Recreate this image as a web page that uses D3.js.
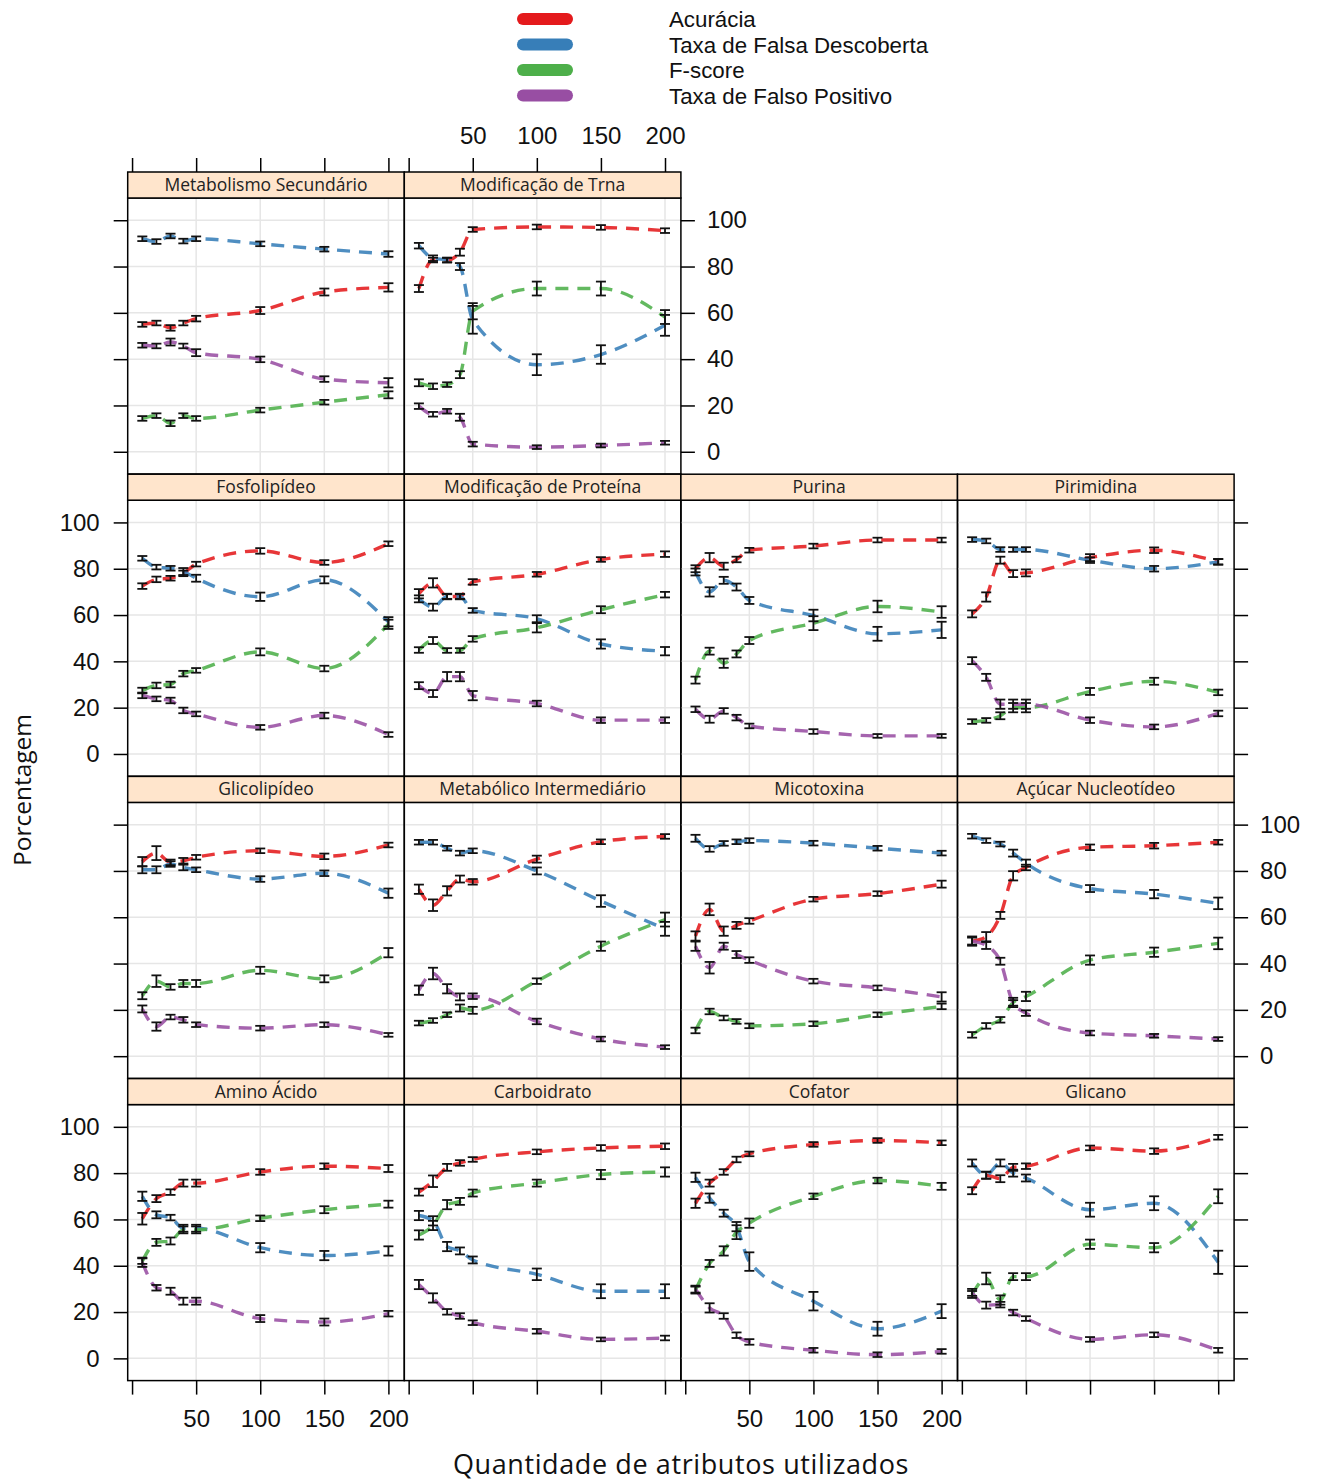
<!DOCTYPE html>
<html>
<head>
<meta charset="utf-8">
<script src="https://cdn.jsdelivr.net/npm/d3@7"></script>
<style>
  body { margin: 0; background: #fff; }
  svg { display: block; }
</style>
</head>
<body>
<div id="chart"></div>
<script>
// quantidade de atributos (eixo x)
const atributos = [8, 19, 30, 40, 50, 100, 150, 200];

const paineis = [
    "Metabolismo Secundário", "Modificação de Trna",
    "Fosfolipídeo", "Modificação de Proteína", "Purina", "Pirimidina",
    "Glicolipídeo", "Metabólico Intermediário", "Micotoxina", "Açúcar Nucleotídeo",
    "Amino Ácido", "Carboidrato", "Cofator", "Glicano"
];

const metricas = ["Acurácia", "Taxa de Falsa Descoberta", "F-score", "Taxa de Falso Positivo"];
const cores = ["#E41A1C", "#377EB8", "#4DAF4A", "#984EA3"];

// valores por painel (mesma ordem de paineis)
const acuracia = [
    [55, 55.6, 53.5, 55.6, 57.5, 61, 69, 71],
    [70.5, 82.8, 82.8, 86.2, 96, 97.1, 96.9, 95.5],
    [72.5, 75.4, 75.9, 78, 82, 87.7, 82.7, 90.8],
    [69.2, 73.9, 68, 68, 74.3, 77.6, 84, 86.3],
    [80, 84.8, 81.1, 84, 88, 89.8, 92.4, 92.4],
    [60.5, 67.8, 83.7, 77.9, 78.2, 84.8, 88, 83],
    [84, 87.7, 83.7, 84.4, 85.9, 88.7, 86.3, 91.2],
    [72.1, 65.2, 71.4, 76.5, 75.3, 85.1, 92.6, 94.9],
    [51.9, 63.4, 54, 56.5, 58.4, 67.8, 70.2, 74.3],
    [49.7, 51.6, 60.8, 77.9, 81.5, 90.2, 90.9, 92.4],
    [60.3, 69, 71.8, 75.7, 75.7, 80.5, 83, 82],
    [71.8, 76.5, 82.5, 84.4, 85.9, 89.2, 90.9, 91.6],
    [67, 75.7, 80.5, 85.9, 88.3, 92.4, 94.1, 93.1],
    [72.4, 79.1, 77.6, 82.5, 83, 90.9, 89.5, 95.5]
];
const falsaDescoberta = [
    [92, 90.8, 93.2, 91, 92, 89.8, 87.5, 85.4],
    [89, 83.6, 82.8, 80, 57, 37.6, 42, 54.6],
    [84.5, 80.7, 80.2, 78.8, 75.9, 67.9, 75.2, 57.1],
    [67, 63.4, 68, 68, 62, 58.4, 47.5, 44.4],
    [78.6, 70, 75, 72.1, 66.3, 59.8, 51.9, 53.6],
    [92.6, 92, 88.3, 88.3, 88.3, 83.7, 80, 83],
    [80.5, 80.5, 83, 81.5, 80.5, 76.5, 79, 70.4],
    [92.4, 92.4, 89.8, 87.7, 88.7, 80, 67, 55],
    [94.1, 89.5, 91.9, 92.6, 93.1, 92, 89.8, 87.7],
    [95, 93.1, 91.6, 87.7, 83.4, 72.4, 70, 66],
    [70, 62, 60.8, 56.2, 56.2, 47.8, 44.4, 46.4],
    [61.7, 59.4, 48.3, 46.4, 42.5, 36.3, 29, 29],
    [78.2, 69.2, 62.7, 56.9, 41.8, 24.7, 12.8, 20.4],
    [84.4, 79.1, 84.4, 80, 77.9, 64.2, 67, 41.5]
];
const fScore = [
    [14.4, 15.6, 12.3, 15.6, 14.4, 18, 21.4, 24.6],
    [29.8, 28.3, 29, 33.3, 60.7, 70.5, 70.5, 58.2],
    [27.4, 29.6, 30, 34.7, 36.1, 44.1, 36.9, 56],
    [44.9, 49, 44.7, 44.7, 49.7, 54.5, 62.3, 68.8],
    [31.9, 44.4, 39.2, 43.2, 49, 56.5, 63.7, 61.3],
    [14, 14.5, 16.5, 20, 20, 27, 31.4, 26.6],
    [26.1, 32.4, 29.9, 31.4, 31.4, 37.1, 33.4, 44.7],
    [14.3, 15.4, 17.9, 20.8, 19.8, 32.4, 47.5, 59],
    [11.1, 19.3, 16.5, 15, 13.1, 14, 17.9, 21.5],
    [9.2, 13.1, 15.7, 23.2, 25.8, 41.5, 44.9, 48.7],
    [42, 50.1, 50.7, 55.5, 55.5, 60.5, 64.2, 66.6],
    [53.3, 57.4, 66.4, 67.8, 71.4, 75.7, 79.4, 80.5],
    [29.5, 41, 46.4, 54.5, 58.4, 70, 76.8, 74.3],
    [27.6, 34.5, 25.2, 35.3, 35.3, 49.3, 47.8, 70]
];
const falsoPositivo = [
    [46, 45.7, 47.4, 45.7, 42.8, 39.9, 31.4, 29.8],
    [19.7, 16.2, 17.5, 14.9, 3.3, 2, 2.7, 3.9],
    [25.3, 23.8, 23.1, 18.8, 17.3, 11.5, 16.6, 8.4],
    [29.5, 26.1, 33.4, 33.4, 25.2, 21.8, 14.6, 14.6],
    [19.3, 15, 18.6, 15.7, 12.1, 9.7, 7.8, 7.8],
    [40.3, 33.1, 21.5, 21.5, 21.5, 14.6, 11.7, 17.5],
    [20.4, 12.8, 16.9, 15.7, 13.6, 12.1, 13.6, 9.2],
    [28.5, 35.7, 29.1, 25.6, 25.9, 15, 7.4, 3.9],
    [47.5, 38.2, 47.5, 43.9, 41.5, 32.4, 29.5, 25.6],
    [49.7, 47.8, 41, 23, 18.6, 10, 8.8, 7.4],
    [41.5, 30.5, 29, 24.7, 24.7, 17.2, 15.7, 19.3],
    [31.9, 26.1, 20.1, 18.3, 15.4, 11.7, 8.2, 8.8],
    [29.9, 21.8, 18.3, 10, 7.1, 3.5, 1.6, 3],
    [28.5, 23, 23.2, 19.8, 17.2, 8.2, 10.2, 3.5]
];

// meia amplitude das barras de erro
const erroAcuracia = [
    [1, 1, 1.2, 1, 1.2, 1.5, 1.5, 1.8],
    [1.5, 1, 1, 1.5, 1, 1, 1, 1],
    [1.2, 1.2, 1, 1.2, 1, 1.2, 1, 1],
    [2, 2, 1.2, 1.2, 1.2, 1, 1, 1.2],
    [1.5, 2, 1.5, 1.2, 1, 1, 1, 1],
    [1.5, 2, 1.5, 1.5, 1.5, 1.5, 1.2, 1.2],
    [2, 3, 1.2, 1.2, 1, 1, 1.2, 1],
    [2, 2.5, 2, 1.5, 1.2, 1.5, 1, 1],
    [2, 2.5, 2, 1.5, 1.2, 1, 1, 1.5],
    [2, 2, 1.5, 2, 1.2, 1.2, 1.2, 1],
    [2.5, 1.5, 1.2, 1.5, 1.5, 1.2, 1.2, 1.5],
    [1.5, 2.5, 1.5, 1.2, 1, 1, 1.2, 1.2],
    [2, 1.5, 1.2, 1.2, 1, 1, 1, 1],
    [1.5, 1.5, 1.5, 1.5, 1.2, 1, 1.2, 1]
];
const erroFalsaDescoberta = [
    [1, 1, 1, 1, 1, 1, 1, 1.2],
    [1.2, 1.2, 1, 1.5, 6, 4.5, 4, 4.5],
    [1, 1, 1, 1.5, 1.5, 1.8, 1.5, 2],
    [1.5, 1.5, 1, 1, 1, 1.5, 2, 1.8],
    [1.5, 2, 1.5, 1.5, 1.5, 2.5, 3, 3.5],
    [1, 1, 1, 1, 1, 1.2, 1.2, 1.2],
    [1.5, 1.5, 1.2, 1.2, 1, 1.2, 1.2, 2],
    [1, 1, 1, 1, 1, 1.5, 2.5, 3],
    [1.5, 1.2, 1, 1, 1, 1, 1, 1],
    [1, 1, 1, 1.5, 1.5, 1.5, 1.8, 2.5],
    [2, 1.5, 1.2, 1.5, 1.5, 2, 2, 2],
    [2, 2, 2, 1.5, 1.5, 2.5, 3, 3],
    [2, 2, 1.5, 2, 4, 4, 3, 3],
    [1.5, 1.5, 1.5, 1.5, 1.5, 3, 3, 5]
];
const erroFScore = [
    [1, 1, 1.2, 1, 1, 1, 1, 1.5],
    [1.5, 1.2, 1, 1.5, 3.5, 3, 3, 3],
    [1.2, 1.2, 1.2, 1.2, 1, 1.5, 1.2, 2],
    [1.2, 1.5, 1, 1, 1.2, 2, 1.5, 1.2],
    [1.5, 1.5, 2, 1.5, 1.5, 3, 2.5, 2.5],
    [1, 1, 1.5, 2, 2, 1.5, 1.5, 1.2],
    [1.5, 2.5, 1.2, 1.5, 1.5, 1.5, 1.5, 2],
    [1, 1, 1, 1.5, 1.5, 1.2, 2, 3],
    [1.2, 1.2, 1, 1, 1, 1, 1, 1.2],
    [1.2, 1.2, 1.2, 2, 2, 2, 2, 2.5],
    [1.2, 1.5, 1.5, 1.5, 1.5, 1.2, 1.5, 1.5],
    [2, 2, 2, 1.5, 1.5, 1.5, 2, 2],
    [1.5, 1.5, 2, 3, 2, 1.2, 1.2, 1.5],
    [1.5, 2.5, 2, 1.5, 1.5, 2, 2, 3]
];
const erroFalsoPositivo = [
    [1, 1, 1.5, 1, 1.5, 1.2, 1.2, 2],
    [1.2, 1, 1, 1.5, 1, 0.8, 0.8, 0.8],
    [1.2, 1, 1.2, 1.2, 1, 1, 1.2, 1],
    [1.5, 1.5, 2, 2, 2, 1.2, 1.2, 1.2],
    [1.2, 1.5, 1.2, 1.2, 1, 1, 0.8, 0.8],
    [1.5, 1.5, 2, 2, 2, 1.2, 1, 1.2],
    [1.5, 1.8, 1, 1.2, 1, 1, 1, 0.8],
    [2, 2.5, 2, 1.5, 1.2, 1.2, 1, 0.8],
    [2, 2.5, 1.5, 1.5, 1.2, 1, 1, 2],
    [1.5, 1.5, 1.5, 1.2, 1.2, 1, 0.8, 0.8],
    [2, 1.2, 1.5, 1.5, 1.5, 1.5, 1.5, 1.2],
    [2, 2, 1.2, 1.2, 1, 1, 0.8, 1],
    [1.5, 2, 1.2, 1.2, 1.2, 1, 1, 1],
    [1.5, 1.5, 1.2, 1.2, 1, 1, 1, 1]
];

const xTicks = [0, 50, 100, 150, 200];
const yTicks = [0, 20, 40, 60, 80, 100];

const valores = [acuracia, falsaDescoberta, fScore, falsoPositivo];
const erros = [erroAcuracia, erroFalsaDescoberta, erroFScore, erroFalsoPositivo];

// ---- layout ----
let width = 1318;
let height = 1481;
let colLeft0 = 127.7, colW = 276.6;
let stripTop0 = 172, rowStep = 302.2, stripH = 26, panelH = 276;
const axisFont = "'Liberation Sans', Arial, sans-serif";
const stripFont = "'Open Sans', sans-serif";

// posicao (linha, coluna) de cada painel
function posicao(i) {
    if (i < 2) return [0, i];
    let k = i - 2;
    return [1 + Math.floor(k / 4), k % 4];
}

let svg = d3.select('#chart')
    .append('svg')
    .attr('width', width)
    .attr('height', height);

let x = d3.scaleLinear().domain([-3.4, 212.4]).range([0, colW]);
let y = d3.scaleLinear().domain([-9.6, 109.6]).range([panelH, 0]);

let line = d3.line()
    .x(d => x(d[0]))
    .y(d => y(d[1]))
    .curve(d3.curveMonotoneX);

function styleAxis(g) {
    g.select('.domain').remove();
    g.selectAll('.tick line').attr('stroke', '#000').attr('stroke-width', 1.5);
    g.selectAll('.tick text')
        .attr('fill', '#111')
        .style('font-family', axisFont)
        .style('font-size', '24px');
}

paineis.forEach((nome, i) => {
    let [row, col] = posicao(i);
    let left = colLeft0 + col * colW;
    let stripTop = stripTop0 + row * rowStep;
    let top = stripTop + stripH;

    let g = svg.append('g').attr('transform', `translate(${left},${top})`);

    // grade
    g.append('g').selectAll('line.gy')
        .data(yTicks)
        .join('line')
        .attr('x1', 0).attr('x2', colW)
        .attr('y1', d => y(d)).attr('y2', d => y(d))
        .attr('stroke', '#e6e6e6').attr('stroke-width', 1.5);
    g.append('g').selectAll('line.gx')
        .data(xTicks.filter(t => t > 0))
        .join('line')
        .attr('y1', 0).attr('y2', panelH)
        .attr('x1', d => x(d)).attr('x2', d => x(d))
        .attr('stroke', '#e6e6e6').attr('stroke-width', 1.5);

    // linhas tracejadas
    valores.forEach((serie, s) => {
        let pts = atributos.map((a, j) => [a, serie[i][j]]);
        g.append('path')
            .attr('d', line(pts))
            .attr('fill', 'none')
            .attr('stroke', cores[s])
            .attr('stroke-width', 3.4)
            .attr('stroke-dasharray', '13,9')
            .attr('opacity', 0.88);
    });

    // barras de erro
    valores.forEach((serie, s) => {
        atributos.forEach((a, j) => {
            let v = serie[i][j], e = erros[s][i][j];
            let cx = x(a);
            let eb = g.append('g')
                .attr('stroke', '#111')
                .attr('stroke-width', 1.8);
            eb.append('line').attr('x1', cx).attr('x2', cx).attr('y1', y(v - e)).attr('y2', y(v + e));
            eb.append('line').attr('x1', cx - 5).attr('x2', cx + 5).attr('y1', y(v - e)).attr('y2', y(v - e));
            eb.append('line').attr('x1', cx - 5).attr('x2', cx + 5).attr('y1', y(v + e)).attr('y2', y(v + e));
        });
    });

    // borda do painel
    g.append('rect')
        .attr('width', colW).attr('height', panelH)
        .attr('fill', 'none').attr('stroke', '#000').attr('stroke-width', 1.5);

    // faixa com o titulo
    let strip = svg.append('g').attr('transform', `translate(${left},${stripTop})`);
    strip.append('rect')
        .attr('width', colW).attr('height', stripH)
        .attr('fill', '#FFE5CC').attr('stroke', '#000').attr('stroke-width', 1.5);
    strip.append('text')
        .attr('x', colW / 2).attr('y', stripH / 2 + 6)
        .attr('text-anchor', 'middle')
        .style('font-family', stripFont)
        .style('font-size', '17.5px')
        .attr('fill', '#222')
        .text(nome);

    let fmtX = d => d === 0 ? '' : d;

    // eixo superior (primeira linha)
    if (row === 0) {
        let ax = d3.axisTop(x).tickValues(xTicks).tickSize(14).tickPadding(14)
            .tickFormat(col === 1 ? fmtX : () => '');
        svg.append('g').attr('transform', `translate(${left},${stripTop})`).call(ax).call(styleAxis);
    }
    // eixo inferior (ultima linha)
    if (row === 3) {
        let ax = d3.axisBottom(x).tickValues(xTicks).tickSize(14).tickPadding(15)
            .tickFormat(col === 0 || col === 2 ? fmtX : () => '');
        svg.append('g').attr('transform', `translate(${left},${top + panelH})`).call(ax).call(styleAxis);
    }
    // eixo esquerdo
    if (col === 0) {
        let ax = d3.axisLeft(y).tickValues(yTicks).tickSize(14).tickPadding(14)
            .tickFormat(row === 1 || row === 3 ? d => d : () => '');
        svg.append('g').attr('transform', `translate(${left},${top})`).call(ax).call(styleAxis);
    }
    // eixo direito (ultimo painel da linha)
    let ultimo = (row === 0 && col === 1) || (row > 0 && col === 3);
    if (ultimo) {
        let ax = d3.axisRight(y).tickValues(yTicks).tickSize(14).tickPadding(12)
            .tickFormat(row === 0 || row === 2 ? d => d : () => '');
        svg.append('g').attr('transform', `translate(${left + colW},${top})`).call(ax).call(styleAxis);
    }
});

// legenda
let legend = svg.append('g');
metricas.forEach((m, s) => {
    let cy = 19 + s * 25.5;
    legend.append('line')
        .attr('x1', 523).attr('x2', 567)
        .attr('y1', cy).attr('y2', cy)
        .attr('stroke', cores[s])
        .attr('stroke-width', 12)
        .attr('stroke-linecap', 'round');
    legend.append('text')
        .attr('x', 669).attr('y', cy + 8)
        .style('font-family', axisFont)
        .style('font-size', '22.3px')
        .attr('fill', '#111')
        .text(m);
});

// titulos dos eixos
svg.append('text')
    .attr('x', 681).attr('y', 1474)
    .attr('text-anchor', 'middle')
    .style('font-family', stripFont)
    .style('font-size', '27px')
    .style('letter-spacing', '0.6px')
    .attr('fill', '#111')
    .text('Quantidade de atributos utilizados');

svg.append('text')
    .attr('transform', 'translate(31,790) rotate(-90)')
    .attr('text-anchor', 'middle')
    .style('font-family', stripFont)
    .style('font-size', '24.5px')
    .attr('fill', '#111')
    .text('Porcentagem');
</script>
</body>
</html>
